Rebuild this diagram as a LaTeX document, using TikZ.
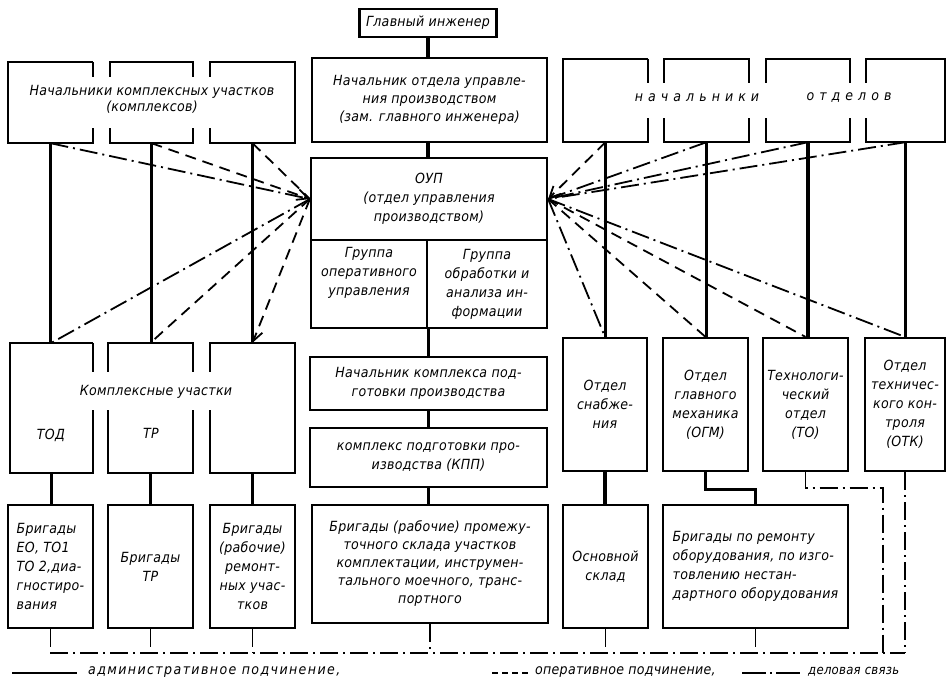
\documentclass[tikz,border=0pt]{standalone}
\usepackage{fontspec}
\newfontfamily\rusfont[LetterSpace=2,FakeStretch=0.9]{DejaVu Sans}
\usetikzlibrary{arrows.meta}
\tikzset{
 lbl/.style={font=\rusfont\itshape\fontsize{14}{19}\selectfont, align=center, inner sep=0pt},
 box/.style={draw, line width=2.2pt, inner sep=0pt, lbl},
 cell/.style={draw=none, inner sep=0pt},
 frame/.style={line width=2.2pt, line cap=butt, line join=miter},
 adm/.style={line width=3.2pt},
 oper/.style={line width=1.8pt, dash pattern=on 11pt off 7pt},
 rel/.style={line width=1.8pt, dash pattern=on 18pt off 5pt on 2pt off 5pt},
 tipin/.style={-{Straight Barb[length=11pt,width=11pt,line width=1.8pt]}},
}
\begin{document}
\begin{tikzpicture}[x=1pt,y=-1pt]
\fill[white] (0,0) rectangle (950,682);
\useasboundingbox (0,0) rectangle (950,682);

% ---------- central column
\node[box, minimum width=137, minimum height=28] (gi) at (428,23) {Главный инженер};
\node[box, minimum width=235, minimum height=84, font=\rusfont\itshape\fontsize{14}{18}\selectfont] (nach) at (429.5,100)
  {Начальник отдела управле-\\ния производством\\(зам. главного инженера)};
\node[box, minimum width=236, minimum height=82] (oup) at (429,199)
  {ОУП\\(отдел управления\\производством)};
\node[box, minimum width=116, minimum height=88] (g1) at (369,284)
  {Группа\\оперативного\\управления\\[6pt]};
\node[box, minimum width=120, minimum height=88] (g2) at (487,284)
  {Группа\\обработки и\\анализа ин-\\формации};
\node[box, minimum width=237, minimum height=53] (nk) at (428.5,383.5)
  {Начальник комплекса под-\\готовки производства};
\node[box, minimum width=237, minimum height=59] (kpp) at (428.5,457.5)
  {комплекс подготовки про-\\изводства (КПП)};
\node[box, minimum width=236, minimum height=118, font=\rusfont\itshape\fontsize{14}{18}\selectfont] (bm) at (430,564)
  {Бригады (рабочие) промежу-\\точного склада участков\\комплектации, инструмен-\\тального моечного, транс-\\портного};

% ---------- left column cells
\node[cell, minimum width=85, minimum height=81] (tl1) at (50.5,102.5) {};
\node[cell, minimum width=83, minimum height=81] (tl2) at (151.5,102.5) {};
\node[cell, minimum width=85, minimum height=81] (tl3) at (252.5,102.5) {};
\node[lbl, font=\rusfont\itshape\fontsize{14}{16}\selectfont] (tlt) at (152,99) {Начальники комплексных участков\\(комплексов)};

\node[cell, minimum width=83, minimum height=130] (ml1) at (51.5,408) {};
\node[cell, minimum width=85, minimum height=130] (ml2) at (150.5,408) {};
\node[cell, minimum width=85, minimum height=130] (ml3) at (252.5,408) {};
\node[lbl] (mlt) at (156,392) {Комплексные участки};
\node[lbl] (mlt1) at (51,435) {ТОД};
\node[lbl] (mlt2) at (151,433) {ТР};

\node[box, minimum width=85, minimum height=123, align=left] (bl1) at (50.5,566.5)
  {Бригады\\ЕО, ТО1\\ТО 2,диа-\\гностиро-\\вания};
\node[box, minimum width=85, minimum height=123] (bl2) at (150.5,566.5) {Бригады\\ТР};
\node[box, minimum width=85, minimum height=123] (bl3) at (252.5,566.5)
  {Бригады\\(рабочие)\\ремонт-\\ных учас-\\тков};

% ---------- right column cells
\node[cell, minimum width=85, minimum height=83] (tr1) at (605.5,100.5) {};
\node[cell, minimum width=85, minimum height=83] (tr2) at (706.5,100.5) {};
\node[cell, minimum width=84, minimum height=83] (tr3) at (808,100.5) {};
\node[cell, minimum width=79, minimum height=83] (tr4) at (905.5,100.5) {};
\node[lbl, font=\rusfont\itshape\fontsize{14}{19}\selectfont\addfontfeatures{LetterSpace=36}] (trt1) at (697,98) {начальники};
\node[lbl, font=\rusfont\itshape\fontsize{14}{19}\selectfont\addfontfeatures{LetterSpace=36}] (trt2) at (849,98) {отделов};

\node[box, minimum width=84, minimum height=133] (mr1) at (605,404.5) {Отдел\\снабже-\\ния};
\node[box, minimum width=85, minimum height=133] (mr2) at (705.5,404.5) {Отдел\\главного\\механика\\(ОГМ)};
\node[box, minimum width=85, minimum height=133] (mr3) at (805.5,404.5) {Технологи-\\ческий\\отдел\\(ТО)};
\node[box, minimum width=80, minimum height=133] (mr4) at (905,404.5) {Отдел\\техничес-\\кого кон-\\троля\\(ОТК)};

\node[box, minimum width=85, minimum height=123] (bs) at (605.5,566.5) {Основной\\склад};
\node[box, minimum width=185, minimum height=123, align=left] (br) at (755.5,566.5)
  {Бригады по ремонту\\оборудования, по изго-\\товлению нестан-\\дартного оборудования};

% ---------- frames of merged headers
\draw[frame] (tl1.north east) -- (tl1.north west) -- (tl1.south west) -- (tl1.south east) -- ++(0,-15);
\draw[frame] (tl1.north east) -- ++(0,15);
\draw[frame] (tl2.north west) ++(0,15) -- (tl2.north west) -- (tl2.north east) -- ++(0,15);
\draw[frame] (tl2.south west) ++(0,-15) -- (tl2.south west) -- (tl2.south east) -- ++(0,-15);
\draw[frame] (tl3.north west) ++(0,15) -- (tl3.north west) -- (tl3.north east) -- (tl3.south east) -- (tl3.south west) -- ++(0,-15);
\draw[frame] (tr1.north east) -- (tr1.north west) -- (tr1.south west) -- (tr1.south east) -- ++(0,-24);
\draw[frame] (tr1.north east) -- ++(0,24);
\draw[frame] (tr2.north west) ++(0,24) -- (tr2.north west) -- (tr2.north east) -- ++(0,24);
\draw[frame] (tr2.south west) ++(0,-24) -- (tr2.south west) -- (tr2.south east) -- ++(0,-24);
\draw[frame] (tr3.north west) ++(0,24) -- (tr3.north west) -- (tr3.north east) -- ++(0,24);
\draw[frame] (tr3.south west) ++(0,-24) -- (tr3.south west) -- (tr3.south east) -- ++(0,-24);
\draw[frame] (tr4.north west) ++(0,24) -- (tr4.north west) -- (tr4.north east) -- (tr4.south east) -- (tr4.south west) -- ++(0,-24);
\draw[frame] (ml1.north east) -- (ml1.north west) -- (ml1.south west) -- (ml1.south east) -- ++(0,-63);
\draw[frame] (ml1.north east) -- ++(0,29);
\draw[frame] (ml2.north west) ++(0,29) -- (ml2.north west) -- (ml2.north east) -- ++(0,29);
\draw[frame] (ml2.south west) ++(0,-63) -- (ml2.south west) -- (ml2.south east) -- ++(0,-63);
\draw[frame] (ml3.north west) ++(0,29) -- (ml3.north west) -- (ml3.north east) -- (ml3.south east) -- (ml3.south west) -- ++(0,-63);

% ---------- administrative (solid) connectors
\draw[adm] (gi.south) -- (gi.south |- nach.north);
\draw[adm] (gi.south |- nach.south) -- (gi.south |- oup.north);
\draw[adm] (g1.south east) -- (g1.south east |- nk.north);
\draw[adm] (g1.south east |- nk.south) -- (g1.south east |- kpp.north);
\draw[adm] (g1.south east |- kpp.south) -- (g1.south east |- bm.north);
\foreach \a/\b in {tl1/ml1, tl2/ml2, tl3/ml3, ml1/bl1, ml2/bl2, ml3/bl3, tr1/mr1, tr2/mr2, tr3/mr3, tr4/mr4, mr1/bs}
  \draw[adm] (\a.south) -- (\a.south |- \b.north);
\draw[adm] (mr2.south) -- ++(0,17) -| (br.north);

% ---------- operative (dashed) and business (dash-dot) links to OUP
\draw[rel] (tl1.south) -- (oup.west);
\draw[oper, tipin] (tl2.south) -- (oup.west);
\draw[oper] (tl3.south) -- (oup.west);
\draw[rel] (oup.west) -- (ml1.north);
\draw[oper] (oup.west) -- (ml2.north);
\draw[oper, tipin] (oup.west) -- (ml3.north);

\draw[oper, tipin] (tr1.south) -- (oup.east);
\draw[rel] (tr2.south) -- (oup.east);
\draw[rel] (tr3.south) -- (oup.east);
\draw[rel] (tr4.south) -- (oup.east);
\draw[rel] (oup.east) -- (mr1.north);
\draw[oper] (oup.east) -- (mr2.north);
\draw[oper] (oup.east) -- (mr3.north);
\draw[rel] (oup.east) -- (mr4.north);

% ---------- bottom business bus
\coordinate (bus0) at (50,653);
\coordinate (busE) at (883,653);
\coordinate (busF) at (905,653);
\draw[rel] (bus0) -- (busF);
\foreach \a in {bl1, bl2, bl3, bm, bs, br}
  \draw[rel] (\a.south) -- (\a.south |- bus0);
\draw[rel] (mr3.south) -- ++(0,16) -| (busE);
\draw[rel] (mr4.south) -- (busF);

% ---------- legend
\coordinate (l1a) at (12,673); \coordinate (l1b) at (77,673);
\draw[line width=1.8pt] (l1a) -- (l1b);
\node[lbl, anchor=west, font=\rusfont\itshape\fontsize{14}{19}\selectfont\addfontfeatures{LetterSpace=10}] (l1t) at (88,672) {административное подчинение,};
\coordinate (l2a) at (492,673); \coordinate (l2b) at (528,673);
\draw[line width=1.6pt, dash pattern=on 6pt off 4pt] (l2a) -- (l2b);
\node[lbl, anchor=west] (l2t) at (535,672) {оперативное подчинение,};
\coordinate (l3a) at (742,673); \coordinate (l3b) at (800,673);
\draw[line width=1.6pt, dash pattern=on 24pt off 4pt on 2pt off 4pt] (l3a) -- (l3b);
\node[lbl, anchor=west, font=\rusfont\itshape\fontsize{13}{19}\selectfont] (l3t) at (808,672) {деловая связь};
\end{tikzpicture}
\end{document}
